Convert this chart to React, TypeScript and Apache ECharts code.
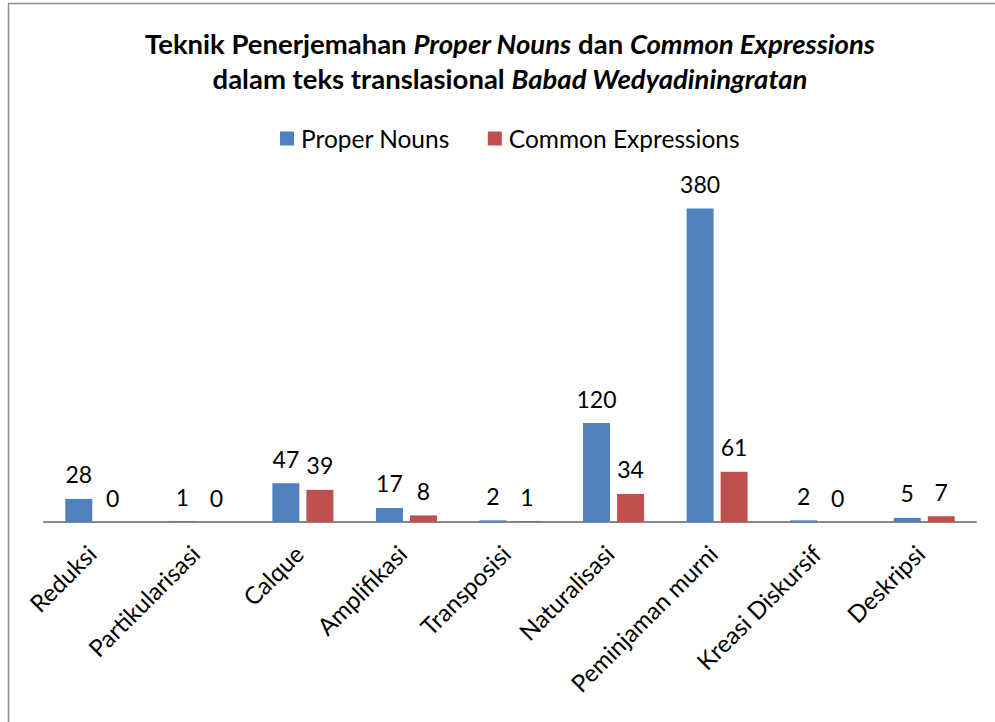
import React, { useEffect, useRef } from "react";
import * as echarts from "echarts";

const categories = [
  "Reduksi",
  "Partikularisasi",
  "Calque",
  "Amplifikasi",
  "Transposisi",
  "Naturalisasi",
  "Peminjaman murni",
  "Kreasi Diskursif",
  "Deskripsi",
];
const properNouns = [28, 1, 47, 17, 2, 120, 380, 2, 5];
const commonExpressions = [0, 0, 39, 8, 1, 34, 61, 0, 7];
const seriesNames = ["Proper Nouns", "Common Expressions"];

const FONT = "Lato, 'Open Sans', sans-serif";

export default function App() {
  const ref = useRef<HTMLDivElement>(null);
  useEffect(() => {
    if (!ref.current) return;
    const chart = echarts.init(ref.current, undefined, { renderer: "svg" });
    const label = {
      show: true,
      position: "top" as const,
      distance: 13,
      fontSize: 23,
      fontFamily: FONT,
      color: "#000",
    };
    chart.setOption({
      animation: false,
      backgroundColor: "#fff",
      textStyle: { fontFamily: FONT },
      graphic: [
        {
          type: "rect",
          shape: { x: 8.5, y: 3.5, width: 1000, height: 740 },
          style: { fill: "none", stroke: "#8c8c8c", lineWidth: 1.5 },
          silent: true,
        },
      ],
      title: {
        text:
          "{b|Teknik Penerjemahan }{bi|Proper Nouns}{b| dan }{bi|Common Expressions}\n{b|dalam teks translasional }{bi|Babad Wedyadiningratan}",
        left: 505,
        top: 21,
        textAlign: "center",
        textStyle: {
          rich: {
            b: { fontSize: 27.5, fontWeight: "bold", fontFamily: FONT, color: "#000", lineHeight: 35 },
            bi: { fontSize: 27.5, fontWeight: "bold", fontStyle: "italic", fontFamily: FONT, color: "#000", lineHeight: 35 },
          },
        },
      },
      legend: {
        data: seriesNames,
        top: 121,
        left: 275,
        icon: "rect",
        itemWidth: 14,
        itemHeight: 14,
        itemGap: 38,
        textStyle: { fontSize: 24.5, fontFamily: FONT, color: "#000", padding: [0, 0, 0, 2] },
      },
      grid: { left: 44, right: 19, top: 192, bottom: 200, containLabel: false },
      xAxis: {
        type: "category",
        data: categories,
        axisLine: { lineStyle: { color: "#888", width: 2 } },
        axisTick: { show: false },
        axisLabel: {
          rotate: 45,
          interval: 0,
          fontSize: 24,
          fontFamily: FONT,
          color: "#000",
          margin: 23,
          padding: [0, 6, 0, 0],
        },
      },
      yAxis: {
        type: "value",
        min: 0,
        max: 400,
        show: false,
        splitLine: { show: false },
      },
      series: [
        {
          name: seriesNames[0],
          type: "bar",
          data: properNouns,
          barWidth: 27,
          barGap: "26%",
          itemStyle: { color: "#4F81BD" },
          label,
        },
        {
          name: seriesNames[1],
          type: "bar",
          data: commonExpressions,
          barWidth: 27,
          itemStyle: { color: "#C0504D" },
          label,
        },
      ],
    });
    return () => chart.dispose();
  }, []);
  return (
    <div
      ref={ref}
      style={{ position: "absolute", left: 0, top: 0, width: 995, height: 722 }}
    />
  );
}
